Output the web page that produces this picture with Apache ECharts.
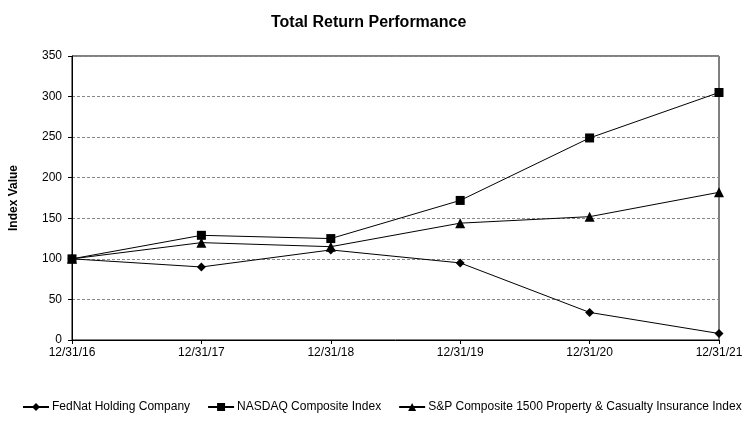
<!DOCTYPE html>
<html><head><meta charset="utf-8">
<script src="https://cdn.jsdelivr.net/npm/echarts@6/dist/echarts.min.js"></script>
<style>html,body{margin:0;padding:0;background:#fff}#c{width:754px;height:427px}</style>
</head><body><div id="c"></div>
<script>
const categories = ['12/31/16','12/31/17','12/31/18','12/31/19','12/31/20','12/31/21'];
const fednat = [100, 90, 111, 95, 34, 8];
const nasdaq = [100, 129, 125, 172, 249, 305];
const spPC = [100, 120, 115, 144, 152, 182];
const yTicks = [0, 50, 100, 150, 200, 250, 300, 350];

const font = 'Liberation Sans, Arial, sans-serif';
const chart = echarts.init(document.getElementById('c'), null, {renderer: 'canvas'});
function mk(name, data, symbol, size) {
  return {
    name, type: 'line', data, symbol, symbolSize: size,
    lineStyle: {color: '#000', width: 1},
    itemStyle: {color: '#000'},
    animation: false
  };
}
chart.setOption({
  animation: false,
  title: {
    text: 'Total Return Performance', left: 266, top: 10,
    textStyle: {fontFamily: font, fontWeight: 'bold', fontSize: 16, color: '#000'}
  },
  grid: {left: 71, right: 35, top: 56, bottom: 87, show: true, borderColor: '#000', borderWidth: 1},
  legend: {
    top: 401, left: 22, width: 740, itemWidth: 26, itemHeight: 10, itemGap: 17,
    padding: 0,
    textStyle: {fontFamily: font, fontSize: 12, color: '#000', padding: [0, 0, 0, -2]},
    data: ['FedNat Holding Company', 'NASDAQ Composite Index', 'S&P Composite 1500 Property & Casualty Insurance Index']
  },
  xAxis: {
    type: 'category', data: categories, boundaryGap: false,
    axisLine: {lineStyle: {color: '#000', width: 1}},
    axisTick: {show: true, inside: false, length: 4, lineStyle: {color: '#000'}},
    axisLabel: {fontFamily: font, fontSize: 12, color: '#000', margin: 7, showMaxLabel: true, showMinLabel: true},
    splitLine: {show: false}
  },
  yAxis: {
    type: 'value', min: 0, max: 350, interval: 50,
    name: 'Index Value', nameLocation: 'middle', nameGap: 52, nameRotate: 90,
    nameTextStyle: {fontFamily: font, fontWeight: 'bold', fontSize: 12, color: '#000'},
    axisLine: {show: true, lineStyle: {color: '#000', width: 1}},
    axisTick: {show: true, length: 4, lineStyle: {color: '#000'}},
    axisLabel: {fontFamily: font, fontSize: 12, color: '#000', margin: 10,
      formatter: v => yTicks.includes(v) ? String(v) : ''},
    splitLine: {show: true, lineStyle: {color: '#888', type: [3, 2], width: 1}}
  },
  series: [
    mk('FedNat Holding Company', fednat, 'diamond', 9),
    mk('NASDAQ Composite Index', nasdaq, 'rect', 9),
    mk('S&P Composite 1500 Property & Casualty Insurance Index', spPC, 'triangle', 10)
  ]
});
</script></body></html>
